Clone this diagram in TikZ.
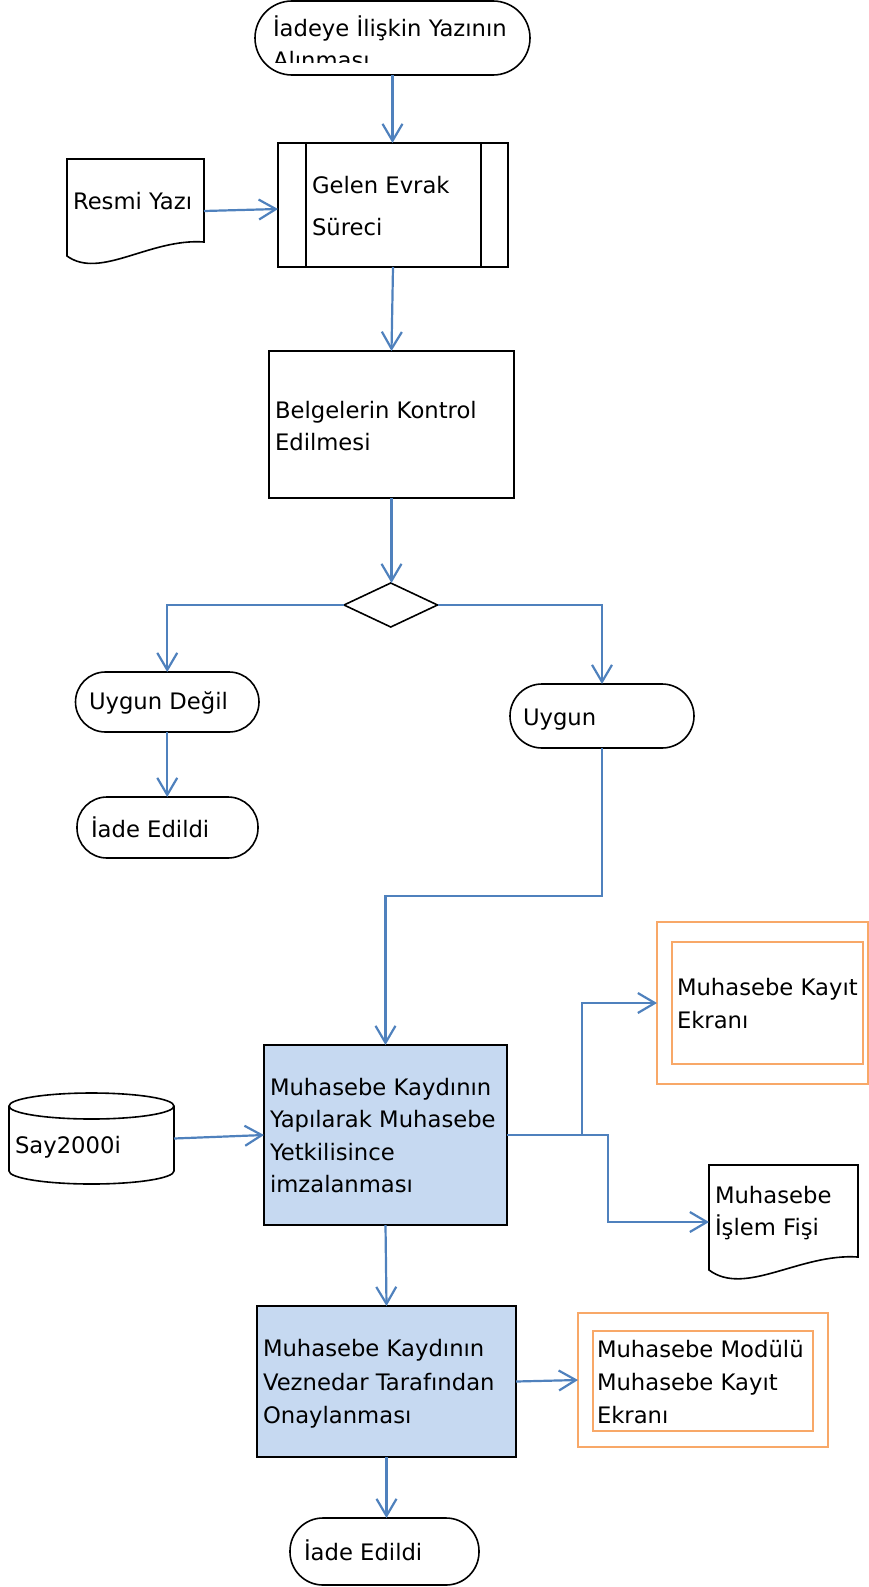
\documentclass[tikz,border=0pt]{standalone}
\usepackage{fontspec}
\setmainfont{DejaVu Sans}
\usetikzlibrary{arrows.meta,shapes.geometric,calc}
\definecolor{lineblue}{RGB}{79,129,189}
\definecolor{boxfill}{RGB}{198,217,241}
\definecolor{orng}{RGB}{248,168,104}
\begin{document}
\begin{tikzpicture}[x=1pt,y=-1pt,
  conn/.style={draw=lineblue, line width=2.2pt, -{Straight Barb[length=17pt,width=20pt]}},
  blk/.style={draw=black, line width=1.6pt, inner sep=0pt, outer sep=0pt},
  ghost/.style={inner sep=0pt, outer sep=0pt},
  obox/.style={draw=orng, line width=1.3pt, inner sep=0pt, outer sep=0pt},
  txt/.style={anchor=base west, inner sep=0pt, outer sep=0pt, font=\fontsize{22.7}{27}\selectfont}]
\useasboundingbox (0,0) rectangle (869,1587);

% ---- shapes ----
\node[blk, rounded corners=37pt, minimum width=275pt, minimum height=74pt] (start) at (392.5,38) {};
\node[blk, minimum width=230pt, minimum height=124pt] (gelen) at (393,205) {};
\draw[black, line width=1.6pt] ([xshift=28pt]gelen.north west) -- ([xshift=28pt]gelen.south west);
\draw[black, line width=1.6pt] ([xshift=-27pt]gelen.north east) -- ([xshift=-27pt]gelen.south east);
\node[ghost, minimum width=137pt, minimum height=104pt] (resmi) at (135.5,211) {};
\draw[black, line width=1.6pt] (67,159) -- (204,159) -- (204,242) .. controls (150,238) and (100,280) .. (67,256) -- cycle;
\node[blk, minimum width=245pt, minimum height=147pt] (belg) at (391.5,424.5) {};
\node[blk, shape=diamond, minimum width=93.5pt, minimum height=44pt] (dia) at (390.75,605) {};
\node[blk, rounded corners=30pt, minimum width=183.5pt, minimum height=60pt] (uygdeg) at (167.25,702) {};
\node[blk, rounded corners=30pt, minimum width=181pt, minimum height=61pt] (iade1) at (167.5,827.5) {};
\node[blk, rounded corners=32pt, minimum width=184pt, minimum height=64pt] (uygun) at (602,716) {};
\node[blk, fill=boxfill, minimum width=243pt, minimum height=180pt] (box1) at (385.5,1135) {};
\node[ghost, minimum width=165pt, minimum height=91pt] (say) at (91.5,1138.5) {};
\draw[black, line width=1.6pt] (9,1106) -- (9,1171) arc[start angle=180, end angle=360, x radius=82.5pt, y radius=13pt] -- (174,1106);
\draw[black, line width=1.6pt] (91.5,1106) ellipse[x radius=82.5pt, y radius=13pt];
\node[obox, minimum width=211pt, minimum height=162pt] (or1) at (762.5,1003) {};
\node[obox, minimum width=191pt, minimum height=122pt] (or1in) at (767.5,1003) {};
\node[ghost, minimum width=149pt, minimum height=114pt] (fisi) at (783.5,1222) {};
\draw[black, line width=1.6pt] (709,1165) -- (858,1165) -- (858,1257) .. controls (800,1253) and (745,1297) .. (709,1270) -- cycle;
\node[blk, fill=boxfill, minimum width=259pt, minimum height=151pt] (box2) at (386.5,1381.5) {};
\node[obox, minimum width=250pt, minimum height=134pt] (or2) at (703,1380) {};
\node[obox, minimum width=220pt, minimum height=100pt] (or2in) at (703,1381) {};
\node[blk, rounded corners=33pt, minimum width=189pt, minimum height=67pt] (iade2) at (384.5,1551.5) {};

% ---- texts ----
\node[txt] (t0a) at (273,37) {İadeye İlişkin Yazının};
\begin{scope}
\clip (255,0) rectangle (530,63);
\node[txt] (t0b) at (273,69) {Alınması};
\end{scope}
\node[txt] (t1) at (73,209) {Resmi Yazı};
\node[txt] (t2a) at (312,193) {Gelen Evrak};
\node[txt] (t2b) at (312,235) {Süreci};
\node[txt] (t3a) at (275,418) {Belgelerin Kontrol};
\node[txt] (t3b) at (275,450) {Edilmesi};
\node[txt] (t4) at (89,709) {Uygun Değil};
\node[txt] (t5) at (91,837) {İade Edildi};
\node[txt] (t6) at (523,725) {Uygun};
\node[txt] (t7a) at (270,1095) {Muhasebe Kaydının};
\node[txt] (t7b) at (270,1127) {Yapılarak Muhasebe};
\node[txt] (t7c) at (270,1160) {Yetkilisince};
\node[txt] (t7d) at (270,1192) {imzalanması};
\node[txt] (t8) at (15,1153) {Say2000i};
\node[txt] (t9a) at (677,995) {Muhasebe Kayıt};
\node[txt] (t9b) at (677,1028) {Ekranı};
\node[txt] (t10a) at (715,1203) {Muhasebe};
\node[txt] (t10b) at (715,1235) {İşlem Fişi};
\node[txt] (t11a) at (263,1356) {Muhasebe Kaydının};
\node[txt] (t11b) at (263,1390) {Veznedar Tarafından};
\node[txt] (t11c) at (263,1423) {Onaylanması};
\node[txt] (t12a) at (597,1357) {Muhasebe Modülü};
\node[txt] (t12b) at (597,1390) {Muhasebe Kayıt};
\node[txt] (t12c) at (597,1423) {Ekranı};
\node[txt] (t13) at (304,1560) {İade Edildi};

% ---- connectors ----
\draw[conn] (start.south) -- (start.south |- gelen.north);
\draw[conn] (resmi.east) -- ([yshift=-4pt]gelen.west);
\draw[conn] (gelen.south) -- (belg.north);
\draw[conn] (belg.south) -- (belg.south |- dia.north);
\draw[conn] (dia.west) -| (uygdeg.north);
\draw[conn] (dia.east) -| (uygun.north);
\draw[conn] (uygdeg.south) -- (uygdeg.south |- iade1.north);
\draw[conn] (uygun.south) -- ++(0,148) -| (box1.north);
\draw[conn] (say.east) -- (box1.west);
\draw[conn] (box1.east) -- ++(101,0) |- (fisi.west);
\draw[conn] ([xshift=75pt]box1.east) |- (or1.west);
\draw[conn] (box1.south) -- (box2.north);
\draw[conn] (box2.east) -- (or2.west);
\draw[conn] (box2.south) -- (box2.south |- iade2.north);
\end{tikzpicture}
\end{document}
